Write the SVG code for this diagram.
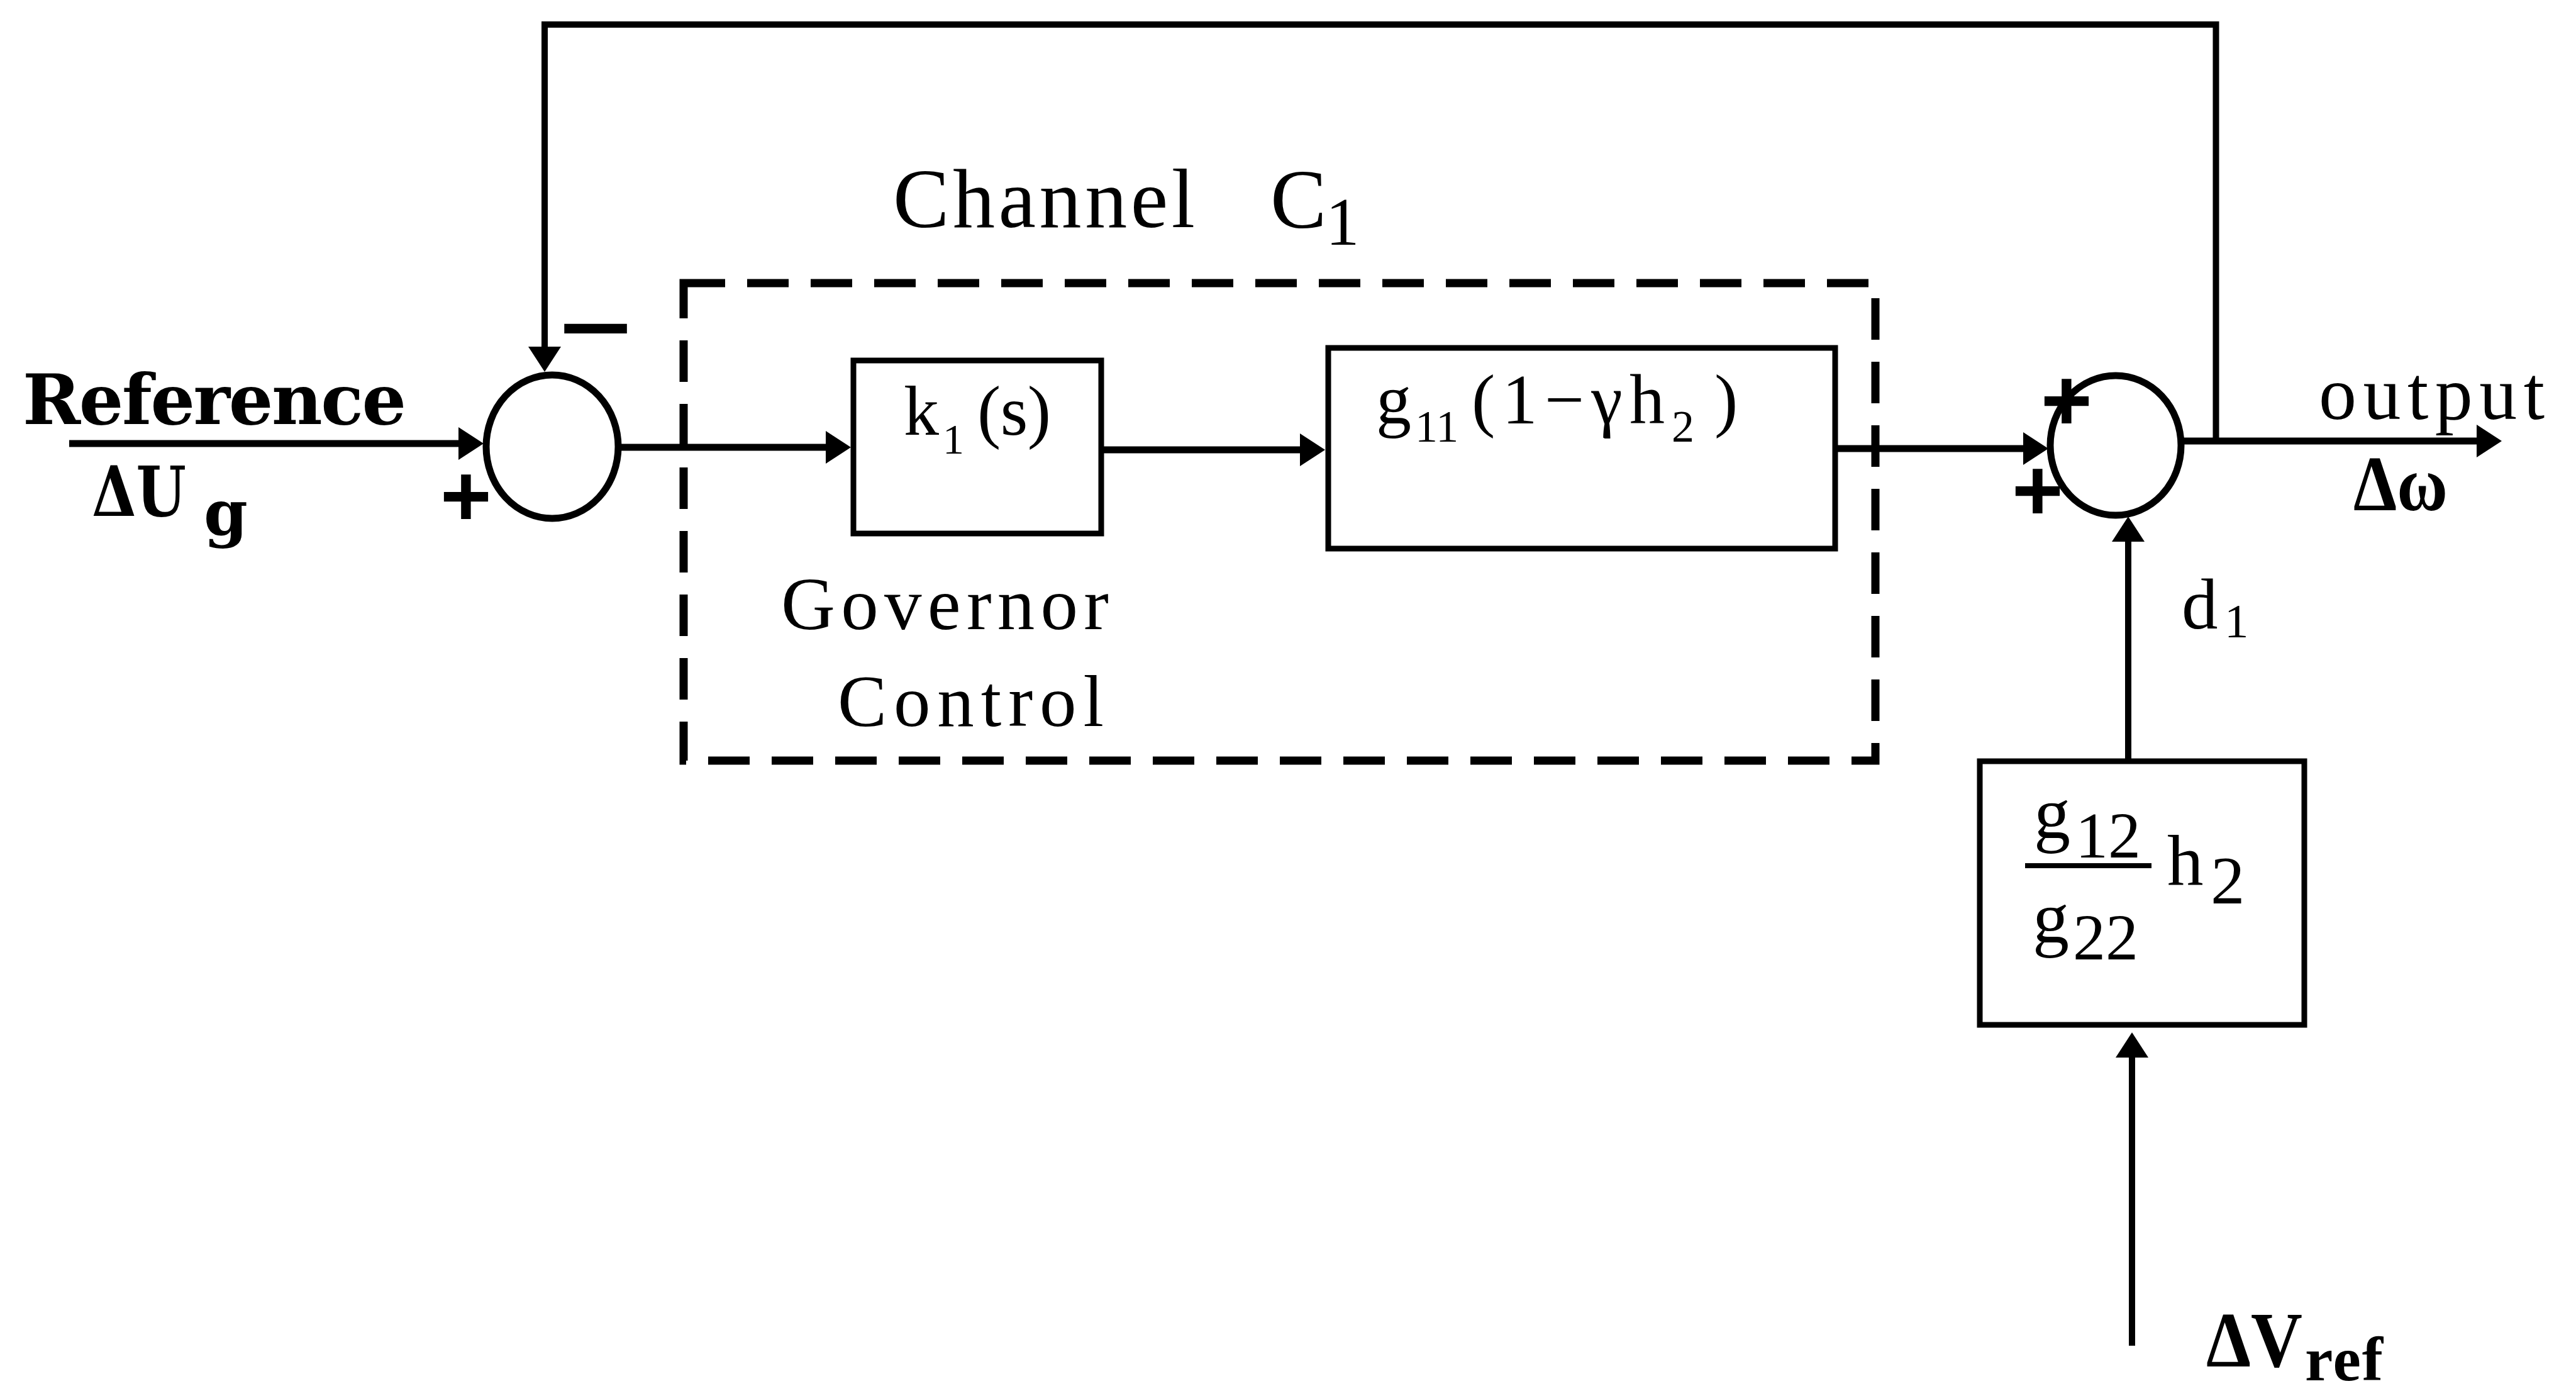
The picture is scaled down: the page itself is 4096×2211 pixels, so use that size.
<svg xmlns="http://www.w3.org/2000/svg" width="4096" height="2211" viewBox="0 0 4096 2211">
<defs>
<marker id="arr" viewBox="0 0 40 52" refX="20" refY="26" markerWidth="40" markerHeight="52" markerUnits="userSpaceOnUse" orient="auto">
<path d="M0,0 L40,26 L0,52 Z" fill="#000"/>
</marker>
<style>
.conn{fill:none;stroke:#000;stroke-width:11;marker-end:url(#arr)}
.box{fill:#fff;stroke:#000;stroke-width:9}
.sum{fill:#fff;stroke:#000;stroke-width:11}
.dash{fill:none;stroke:#000;stroke-width:13;stroke-dasharray:66 35}
.t{font-family:"Liberation Serif","Times New Roman",serif;fill:#000}
.tb{font-family:"DejaVu Serif","Liberation Serif",serif;font-weight:bold;fill:#000}
.sg{font-family:"Liberation Sans",Arial,sans-serif;font-weight:bold;fill:#000}
</style>
</defs>
<rect width="4096" height="2211" fill="#fff"/>

<g id="connectors">
<path class="conn" d="M110 705 H749"/>
<path class="conn" d="M983 711 H1333"/>
<path class="conn" d="M1751 715 H2087"/>
<path class="conn" d="M2918 713 H3237"/>
<path class="conn" d="M3468 701 H3958"/>
<path class="conn" d="M3523.5 701 V39 H866 V571" style="stroke-width:10"/>
<path class="conn" d="M3384 1210 V841" style="stroke-width:10"/>
<path class="conn" d="M3390 2139 V1661" style="stroke-width:10"/>
</g>

<g id="channel-c1">
<rect class="dash" x="1087" y="450" width="1895" height="759"/>
<text class="t" font-size="134" x="1420" y="361" textLength="480">Channel</text>
<text class="t"><tspan x="2020" y="362" font-size="134">C</tspan><tspan x="2108" y="389" font-size="107">1</tspan></text>
</g>

<g id="sum1">
<ellipse class="sum" cx="878" cy="710" rx="105" ry="114"/>
<text class="sg" font-size="140" x="741" y="836" text-anchor="middle">+</text>
<text class="sg" font-size="140" x="889" y="569" textLength="116" lengthAdjust="spacingAndGlyphs">−</text>
</g>

<g id="reference-label">
<text class="tb" font-size="111" x="36" y="674" textLength="610">Reference</text>
<text class="tb"><tspan x="146" y="820" font-size="111" textLength="150" lengthAdjust="spacingAndGlyphs">ΔU</tspan><tspan x="324" y="850" font-size="100">g</tspan></text>
</g>

<g id="k1">
<rect class="box" x="1357" y="573" width="394" height="275"/>
<text class="t"><tspan x="1437" y="691" font-size="112">k</tspan><tspan x="1499" y="721" font-size="68">1</tspan><tspan x="1554" y="691" font-size="112" textLength="117">(s)</tspan></text>
<text class="t" font-size="119" x="1242" y="1000" textLength="521">Governor</text>
<text class="t" font-size="117" x="1332" y="1154" textLength="423">Control</text>
</g>

<g id="g11">
<rect class="box" x="2112" y="553" width="806" height="319"/>
<text class="t"><tspan x="2188" y="673" font-size="112">g</tspan><tspan x="2250" y="702" font-size="72">11</tspan><tspan x="2340" y="673" font-size="112" textLength="307">(1−γh</tspan><tspan x="2658" y="702" font-size="72">2</tspan><tspan x="2726" y="673" font-size="112">)</tspan></text>
</g>

<g id="sum2">
<ellipse class="sum" cx="3364" cy="708" rx="104" ry="111"/>
<text class="sg" font-size="140" x="3286" y="684" text-anchor="middle">+</text>
<text class="sg" font-size="140" x="3240" y="827" text-anchor="middle">+</text>
</g>

<g id="output-label">
<text class="t" font-size="120" x="3687" y="666" textLength="359">output</text>
<text class="t" font-size="125" font-weight="bold" x="3742" y="811" textLength="150" lengthAdjust="spacingAndGlyphs">Δω</text>
</g>

<g id="d1-label">
<text class="t"><tspan x="3469" y="999" font-size="115">d</tspan><tspan x="3537" y="1013" font-size="77">1</tspan></text>
</g>

<g id="g12">
<rect class="box" x="3148" y="1210" width="516" height="419"/>
<text class="t"><tspan x="3234" y="1332" font-size="116">g</tspan><tspan x="3300" y="1363" font-size="104">12</tspan></text>
<line x1="3220" y1="1376" x2="3421" y2="1376" stroke="#000" stroke-width="8"/>
<text class="t"><tspan x="3232" y="1498" font-size="116">g</tspan><tspan x="3296" y="1525" font-size="104">22</tspan></text>
<text class="t"><tspan x="3446" y="1406" font-size="115">h</tspan><tspan x="3515" y="1436" font-size="109">2</tspan></text>
</g>

<g id="vref-label">
<text class="t" font-weight="bold"><tspan x="3508" y="2172" font-size="125" textLength="153" lengthAdjust="spacingAndGlyphs">ΔV</tspan><tspan x="3665" y="2194" font-size="100" textLength="124">ref</tspan></text>
</g>
</svg>
